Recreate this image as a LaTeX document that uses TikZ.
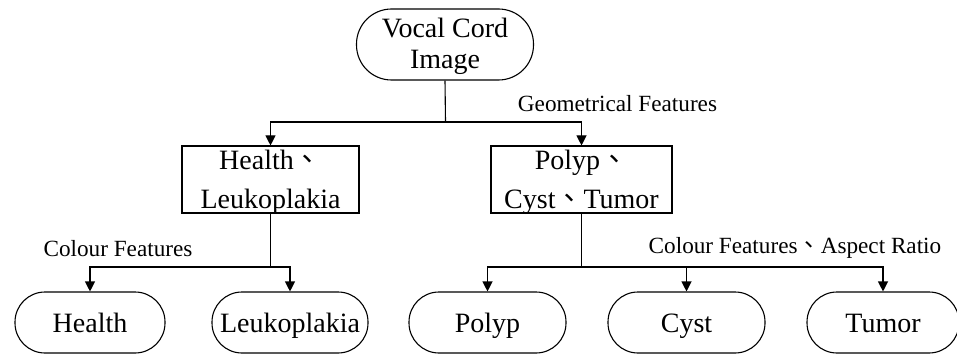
\documentclass[tikz,border=0pt]{standalone}
\usepackage{fontspec}
\setmainfont{Liberation Serif}
\newfontfamily\cjk{Noto Sans CJK TC}
\usetikzlibrary{arrows.meta}
\newcommand{\dun}{{\cjk 、}}
\begin{document}
\begin{tikzpicture}[x=1pt,y=-1pt,
  line width=1.1pt,
  stadium/.style={draw, rounded corners=30pt, minimum height=61pt, inner sep=0pt,
    text height=40pt, text depth=21pt,
    font=\fontsize{28}{31}\selectfont, align=center},
  groupbox/.style={draw, minimum height=67pt, inner sep=0pt},
  boxline/.style={anchor=base, inner sep=0pt, font=\fontsize{28}{31}\selectfont},
  lbl/.style={font=\fontsize{23.2}{26}\selectfont, inner sep=0pt},
  arr/.style={-{Triangle[length=10pt,width=10pt]}}]
\useasboundingbox (0,0) rectangle (957,355);

% root
\node[stadium, rounded corners=35pt, minimum width=177pt, minimum height=71pt,
      text height=60pt, text depth=11pt] (root) at (445,44.5) {Vocal Cord\\Image};

% intermediate groups: frame plus two lines of text
\node[groupbox, minimum width=177pt] (hl) at (270.5,179.5) {};
\node[boxline] (hl1) at (270.5,170) {Health\dun};
\node[boxline] (hl2) at (270.5,209) {Leukoplakia};
\node[groupbox, minimum width=181pt] (pct) at (581.5,179.5) {};
\node[boxline] (pct1) at (581.5,170) {Polyp\dun};
\node[boxline] (pct2) at (581.5,209) {Cyst\dun Tumor};

% leaves
\node[stadium, minimum width=150pt] (health) at (90,322.5) {Health};
\node[stadium, minimum width=156pt] (leuko) at (290,322.5) {Leukoplakia};
\node[stadium, minimum width=157pt] (polyp) at (487.5,322.5) {Polyp};
\node[stadium, minimum width=157pt] (cyst) at (686.5,322.5) {Cyst};
\node[stadium, minimum width=152pt] (tumor) at (883,322.5) {Tumor};

% junction points
\coordinate (j1) at (445.5,122);
\coordinate (j2) at (270.5,267);
\coordinate (j3) at (581.5,267);

% connectors
\draw (root.south) -- (j1);
\draw[arr] (j1) -| (hl.north);
\draw[arr] (j1) -| (pct.north);

\draw (hl.south) -- (j2);
\draw[arr] (j2) -| (health.north);
\draw[arr] (j2) -| (leuko.north);

\draw (pct.south) -- (j3);
\draw[arr] (j3) -| (polyp.north);
\draw[arr] (j3) -| (cyst.north);
\draw[arr] (j3) -| (tumor.north);

% labels
\node[lbl] (geo) at (617.5,104) {Geometrical Features};
\node[lbl] (col) at (118,249) {Colour Features};
\node[lbl] (colasp) at (795,248) {Colour Features\dun Aspect Ratio};
\end{tikzpicture}
\end{document}
